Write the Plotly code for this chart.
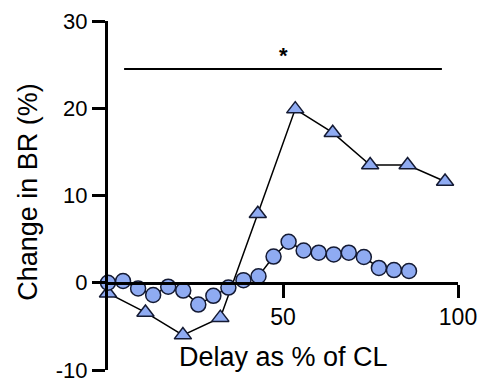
import plotly.graph_objects as go

# Delay (% of cycle length) and change in BR for the two protocols
delay_circle = [0, 4.3, 8.6, 12.9, 17.2, 21.5, 25.8, 30.1, 34.4, 38.7, 43.0,
                47.3, 51.6, 55.9, 60.2, 64.5, 68.8, 73.1, 77.4, 81.7, 86.0]
br_circle = [0.0, 0.2, -0.65, -1.4, -0.45, -0.9, -2.5, -1.5, -0.55, 0.3, 0.75,
             3.0, 4.7, 3.7, 3.45, 3.25, 3.45, 2.95, 1.7, 1.45, 1.35]

delay_triangle = [0, 10.7, 21.4, 32.1, 42.8, 53.5, 64.2, 74.9, 85.6, 96.3]
br_triangle = [-1.2, -3.4, -6.0, -4.0, 7.9, 19.9, 17.2, 13.5, 13.5, 11.6]

# significance bar span and level
sig_x = [4.6, 95.4]
sig_y = 24.5

y_ticks = [-10, 0, 10, 20, 30]
x_ticks = [50, 100]

FONT = "Liberation Sans, Arial, Helvetica, sans-serif"
FILL = "#8FABF2"
EDGE = "#141a33"

fig = go.Figure()

fig.add_trace(go.Scatter(
    x=delay_triangle, y=br_triangle, mode="lines+markers",
    line=dict(color="black", width=1.5),
    marker=dict(symbol="triangle-up", size=15, color=FILL,
                line=dict(color=EDGE, width=1.5)),
    cliponaxis=False, showlegend=False,
))
fig.add_trace(go.Scatter(
    x=delay_circle, y=br_circle, mode="lines+markers",
    line=dict(color="black", width=1.5),
    marker=dict(symbol="circle", size=15, color=FILL,
                line=dict(color=EDGE, width=1.5)),
    cliponaxis=False, showlegend=False,
))

# significance bar with asterisk
fig.add_trace(go.Scatter(
    x=sig_x, y=[sig_y, sig_y], mode="lines",
    line=dict(color="black", width=2), showlegend=False, hoverinfo="skip",
))
fig.add_annotation(x=sum(sig_x) / 2, y=sig_y, yshift=13, text="<b>*</b>",
                   showarrow=False, font=dict(family=FONT, size=22, color="black"))

# x-axis title placed beneath the axis crossing at y = 0
fig.add_annotation(x=0.5, xref="paper", y=-8.5, yref="y", text="Delay as % of CL",
                   showarrow=False, font=dict(family=FONT, size=27, color="black"))

# y-axis title
fig.add_annotation(x=-0.229, xref="paper", y=0.51, yref="paper",
                   xanchor="center", yanchor="middle", textangle=-90,
                   text="Change in BR (%)", showarrow=False,
                   font=dict(family=FONT, size=27, color="black"))

fig.update_layout(
    width=480, height=383,
    margin=dict(l=108, r=22, t=21, b=13),
    paper_bgcolor="white", plot_bgcolor="white",
    font=dict(family=FONT, color="black"),
    xaxis=dict(
        range=[0, 100], tickvals=x_ticks, ticktext=[str(v) for v in x_ticks],
        anchor="free", position=0.25, automargin=False,
        showline=True, linecolor="black", linewidth=3,
        ticks="outside", ticklen=13, tickwidth=3, tickcolor="black",
        showgrid=False, zeroline=False, ticklabeloverflow="allow",
        tickfont=dict(family=FONT, size=23, color="black"),
    ),
    yaxis=dict(
        range=[-10, 30], tickvals=y_ticks, ticktext=[str(v) for v in y_ticks],
        automargin=False,
        showline=True, linecolor="black", linewidth=3,
        ticks="outside", ticklen=13, tickwidth=3, tickcolor="black",
        showgrid=False, zeroline=False, ticklabeloverflow="allow",
        tickfont=dict(family=FONT, size=22, color="black"),
    ),
)

fig.write_html("out.html")
